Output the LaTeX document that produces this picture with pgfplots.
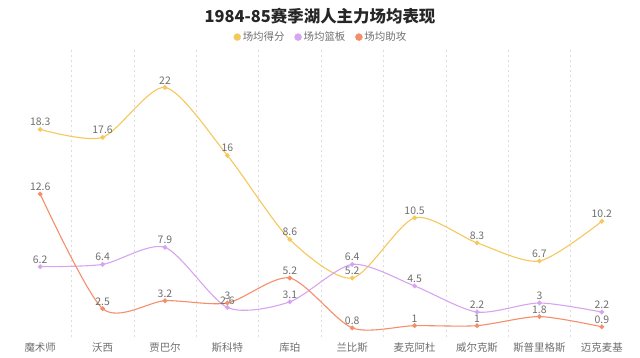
\documentclass[border=0pt]{standalone}
\usepackage{pgfplots}
\pgfplotsset{compat=1.18}
\usepackage{fontspec}
\setmainfont{Noto Sans CJK SC}
\definecolor{cpts}{HTML}{F5C85C}
\definecolor{creb}{HTML}{D6A4F0}
\definecolor{cast}{HTML}{F58E6A}
\definecolor{ctxt}{HTML}{6E6E6E}
\definecolor{cgrid}{HTML}{DDDDDD}
\pgfplotstableread{
x pts reb ast
0 18.3 6.2 12.6
1 17.6 6.4 2.5
2 22 7.9 3.2
3 16 2.6 3
4 8.6 3.1 5.2
5 5.2 6.4 0.8
6 10.5 4.5 1
7 8.3 2.2 1
8 6.7 3 1.8
9 10.2 2.2 0.9
}\data
\begin{document}
\begin{tikzpicture}[x=1bp,y=1bp]
\path[use as bounding box] (0,0) rectangle (640,357);
\node[font=\fontsize{16.5}{18}\selectfont\bfseries, text=black!85] at (320,341) {1984-85赛季湖人主力场均表现};
\begin{axis}[
  at={(9bp,20bp)}, anchor=south west,
  width=624bp, height=287bp, scale only axis,
  xmin=-0.5, xmax=9.5, ymin=0, ymax=25.3,
  axis line style={draw=none},
  ytick=\empty,
  xtick={0,...,9},
  xticklabels={魔术师,沃西,贾巴尔,斯科特,库珀,兰比斯,麦克阿杜,威尔克斯,斯普里格斯,迈克麦基},
  xticklabel style={font=\fontsize{10.5}{12}\selectfont, text=ctxt, yshift=-2bp},
  major tick length=0pt,
  minor xtick={0.5,1.5,...,8.5},
  minor tick length=0pt,
  xminorgrids=true,
  minor grid style={cgrid, dash pattern=on 2bp off 3bp, line width=0.6bp},
  clip=false,
  /pgf/number format/assume math mode=true,
  nodes near coords,
  every node near coord/.style={font=\fontsize{10.5}{12}\selectfont, text=ctxt, anchor=south, yshift=-0.5bp},
  legend style={at={(0.5,1.045)}, anchor=center, draw=none, fill=none, legend columns=3,
    font=\fontsize{10.5}{12}\selectfont, text=ctxt, /tikz/every even column/.append style={column sep=8bp}},
  legend cell align=left,
]
\addlegendimage{only marks, mark=*, mark size=3.5bp, color=cpts}
\addlegendentry{场均得分}
\addlegendimage{only marks, mark=*, mark size=3.5bp, color=creb}
\addlegendentry{场均篮板}
\addlegendimage{only marks, mark=*, mark size=3.5bp, color=cast}
\addlegendentry{场均助攻}
\addplot[cpts, line width=1.1bp, smooth, tension=0.45, mark=*, mark size=1.8bp, forget plot] table[x=x,y=pts]{\data};
\addplot[creb, line width=1.1bp, smooth, tension=0.45, mark=*, mark size=1.8bp, forget plot] table[x=x,y=reb]{\data};
\addplot[cast, line width=1.1bp, smooth, tension=0.45, mark=*, mark size=1.8bp, forget plot] table[x=x,y=ast]{\data};
\end{axis}
\end{tikzpicture}
\end{document}
